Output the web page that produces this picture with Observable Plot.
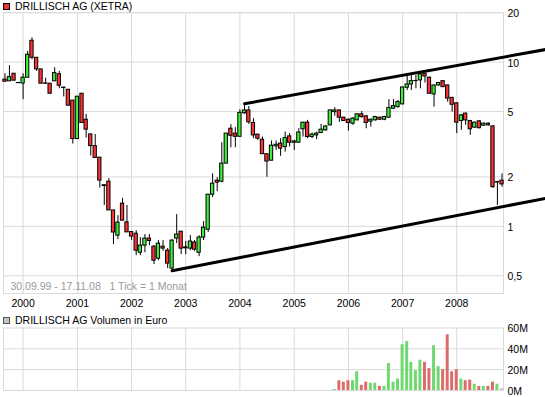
<!DOCTYPE html>
<html><head><meta charset="utf-8">
<script src="https://cdn.jsdelivr.net/npm/d3@7"></script>
<script src="https://cdn.jsdelivr.net/npm/@observablehq/plot@0.6"></script>
<style>
body{margin:0;background:#fff;}
#wrap{position:relative;width:545px;height:397px;font-family:"Liberation Sans",Arial,sans-serif;font-size:10.5px;color:#000;overflow:hidden;}
.lg{position:absolute;left:3px;display:flex;align-items:center;white-space:nowrap;height:10px;}
.sq{width:5px;height:5px;border:1px solid #000;margin-right:5px;}
#wrap svg{position:absolute;left:0;}
</style></head><body><div id="wrap"></div>
<script>
// ---- data (monthly candles, first month = Sep 1999, 1 Tick = 1 Monat) ----
const title = "DRILLISCH AG (XETRA)";
const volTitle = "DRILLISCH AG Volumen in Euro";
const caption = "30.09.99 - 17.11.08\u00a0\u00a0\u00a01 Tick = 1 Monat";
const firstMonth = [1999, 8]; // Sep 1999
const opens = [7.82,7.64,8.50,7.47,7.41,8.04,13.50,10.63,9.03,7.42,
7.39,7.64,8.45,7.00,6.79,5.83,3.40,6.42,4.46,3.63,
3.08,2.62,1.78,1.87,1.25,0.878,1.375,1.058,0.923,0.902,
0.691,0.763,0.842,0.752,0.636,0.752,0.711,0.553,0.842,0.928,
0.745,0.732,0.797,0.691,0.854,0.954,1.559,1.897,1.87,2.41,
3.93,3.67,3.51,4.88,5.08,4.26,3.62,3.37,2.75,2.51,
3.07,3.19,3.04,3.53,3.23,3.23,3.90,4.28,3.50,3.58,
3.70,3.84,4.12,4.96,5.08,4.59,4.46,4.22,4.42,4.81,
4.68,4.34,4.42,4.59,4.46,4.59,5.21,5.32,5.53,6.98,
7.31,7.66,7.74,8.50,8.04,6.36,7.21,7.66,7.21,6.06,
5.61,4.38,4.86,4.38,3.99,4.36,4.10,4.22,4.06,1.85,
1.897];
const highs = [8.50,9.51,8.50,7.50,8.50,11.62,14.07,10.63,9.03,7.99,
7.39,9.25,8.78,7.02,6.79,5.83,6.16,6.42,4.81,3.63,
3.63,2.62,1.78,1.95,1.25,1.162,1.48,1.342,0.923,0.941,
0.854,0.891,0.891,0.763,0.819,0.819,0.732,0.830,1.179,0.928,
0.81,0.878,0.819,0.878,1.068,1.559,2.09,1.98,3.23,3.67,
4.16,3.99,5.13,5.53,5.37,4.53,3.62,3.50,2.75,3.31,
3.31,3.42,3.75,3.67,3.34,3.93,4.30,4.42,3.70,3.75,
4.18,4.10,5.10,5.28,5.10,4.62,4.50,4.60,4.85,5.00,
4.70,4.50,4.68,4.62,4.68,5.91,5.91,5.85,7.05,8.18,
8.30,8.30,8.50,8.55,8.10,7.25,7.50,7.70,7.25,6.10,
5.65,4.80,4.90,4.42,4.32,4.40,4.26,4.26,4.10,1.88,
2.09];
const lows = [7.60,7.64,7.71,7.40,5.91,8.04,10.34,8.78,7.39,7.35,
6.42,7.64,6.88,6.14,5.43,3.17,3.40,4.26,3.45,2.68,
2.61,1.71,1.34,1.25,0.773,0.830,1.083,0.919,0.822,0.663,
0.663,0.691,0.763,0.585,0.618,0.704,0.553,0.527,0.785,0.672,
0.672,0.711,0.704,0.654,0.819,0.917,1.497,1.626,1.844,2.41,
3.01,3.01,3.51,4.81,4.18,3.42,3.34,2.75,1.99,2.51,
2.90,2.67,2.83,3.04,2.90,3.23,3.50,3.42,3.42,3.37,
3.70,3.80,4.10,4.68,4.30,4.35,3.80,4.12,4.40,4.55,
3.93,4.02,4.38,4.42,4.40,4.55,5.15,5.25,5.50,6.72,
6.72,6.88,6.88,7.46,6.40,5.32,7.15,7.00,5.70,4.96,
3.67,3.84,4.12,3.58,3.95,3.92,4.06,4.08,1.70,1.342,
1.73];
const closes = [7.60,8.10,7.71,7.45,8.04,11.09,10.63,9.03,7.39,7.39,
6.42,8.58,7.18,6.96,5.43,3.40,6.16,4.26,3.88,3.08,
2.61,1.90,1.76,1.25,0.917,1.054,1.083,0.919,0.866,0.711,
0.763,0.842,0.814,0.618,0.785,0.732,0.593,0.819,0.891,0.732,
0.735,0.808,0.721,0.854,0.982,1.559,1.819,1.844,2.41,3.67,
3.56,3.51,4.91,5.08,4.30,3.58,3.42,2.75,2.48,3.10,
3.14,2.97,3.45,3.23,3.29,3.73,4.28,3.50,3.62,3.67,
3.88,4.06,5.08,5.08,4.59,4.38,4.26,4.53,4.81,4.63,
4.26,4.46,4.63,4.46,4.63,5.26,5.40,5.71,7.01,7.31,
7.66,7.68,8.42,8.18,6.42,7.21,7.46,7.04,6.00,5.50,
4.28,4.74,4.42,3.90,4.28,3.96,4.22,4.12,1.734,1.86,
1.80];
// monthly turnover in million euro, first month = Oct 2005
const volFirstMonth = [2005, 9];
const volumes = [1,9.4,8,9.4,9.4,18,5,8,7,7,4,4,26,8,11,44,47,27,19,29,27,21,43,23,20,53.5,18,20,11,9.4,10,6,4,4,4,8,6,2];
const yearTicks = [2000,2001,2002,2003,2004,2005,2006,2007,2008];
const priceTicks = [0.5,1,2,5,10,20];
const priceTickLabels = ["0,5","1","2","5","10","20"];
const volTicks = [0,20,40,60];
const volTickLabels = ["0M","20M","40M","60M"];
const upperTrendDates = ["2004-02-01","2009-08-21"];
const upperTrendValues = [5.58, 11.93];
const lowerTrendDates = ["2002-10-01","2009-08-21"];
const lowerTrendValues = [0.537, 1.48];

// ---- build ----
const GREEN = "#3cf03c", RED = "#ff3333";
const DAY = 864e5;
const candles = opens.map((o,i)=>({
  date: new Date(Date.UTC(firstMonth[0], firstMonth[1]+i, 1)),
  open:o, high:highs[i], low:lows[i], close:closes[i]
}));
const volOffset = (volFirstMonth[0]-firstMonth[0])*12 + volFirstMonth[1]-firstMonth[1];
const volData = volumes.map((v,i)=>{
  const c = candles[volOffset+i];
  return {date:c.date, v, fill: i===volumes.length-1 ? "#c8c8c8" : (c.close>=c.open ? "#6fd96f" : "#de6a6a")};
});
const yearDates = yearTicks.map(y=>new Date(Date.UTC(y,0,1)));
const priceTickData = priceTicks.map((v,i)=>({v, label:priceTickLabels[i]}));
const volTickData = volTicks.map((v,i)=>({v, label:volTickLabels[i]}));
const yearData = yearDates.map((d,i)=>({d, label:String(yearTicks[i])}));
const upper = upperTrendDates.map((d,i)=>({date:new Date(d), value:upperTrendValues[i]}));
const lower = lowerTrendDates.map((d,i)=>({date:new Date(d), value:lowerTrendValues[i]}));
const xDomain = [new Date(Date.UTC(1999,7,22)), new Date(Date.UTC(2008,10,11))];
const FONT = '"Liberation Sans", Arial, sans-serif';
const GRID = "#dadada";
const off = (d,n)=>new Date(+d + n*DAY);

const main = Plot.plot({
  width:545, height:310,
  marginLeft:3, marginRight:42, marginTop:12.2, marginBottom:17,
  x:{type:"utc", domain:xDomain, axis:null},
  y:{type:"log", domain:[0.39,20], axis:null},
  style:{fontFamily:FONT, fontSize:"10.5px", background:"none", color:"#000"},
  marks:[
    Plot.ruleY(priceTickData, {y:"v", stroke:GRID}),
    Plot.ruleX(yearDates, {stroke:GRID}),
    Plot.frame({stroke:GRID}),
    Plot.text([caption], {frameAnchor:"bottom-left", lineAnchor:"middle", textAnchor:"start", dx:7, dy:-7, fill:"#9a9a9a"}),
    Plot.ruleX(candles, {x:"date", y1:"low", y2:"high", stroke:"#000", strokeWidth:1}),
    Plot.rect(candles, {x1:d=>off(d.date,-11), x2:d=>off(d.date,11), y1:"open", y2:"close",
      fill:d=>d.close>=d.open?GREEN:RED, stroke:"#000", strokeWidth:1}),
    Plot.line(upper, {x:"date", y:"value", stroke:"#000", strokeWidth:3}),
    Plot.line(lower, {x:"date", y:"value", stroke:"#000", strokeWidth:3}),
    Plot.text(yearData, {x:"d", text:"label", frameAnchor:"bottom", lineAnchor:"middle", dy:10, fill:"#000"}),
    Plot.text(priceTickData, {y:"v", text:"label", frameAnchor:"right", textAnchor:"start", lineAnchor:"middle", dx:4, dy:1, fill:"#000"})
  ]
});
main.style.top = "0px";

const vol = Plot.plot({
  width:545, height:87,
  marginLeft:3, marginRight:42, marginTop:17.5, marginBottom:7,
  x:{type:"utc", domain:xDomain, axis:null},
  y:{domain:[0,60], axis:null},
  style:{fontFamily:FONT, fontSize:"10.5px", background:"none", color:"#000"},
  marks:[
    Plot.ruleY([20,40], {stroke:GRID}),
    Plot.ruleX(yearDates, {stroke:GRID}),
    Plot.frame({stroke:GRID}),
    Plot.rect(volData, {x1:d=>off(d.date,-10), x2:d=>off(d.date,10), y1:0, y2:"v", fill:d=>d.fill}),
    Plot.text(volTickData, {y:"v", text:"label", frameAnchor:"right", textAnchor:"start", lineAnchor:"middle", dx:4, dy:1, fill:"#000"})
  ]
});
vol.style.top = "310px";

const wrap = document.getElementById("wrap");
wrap.appendChild(main);
wrap.appendChild(vol);
function legend(text, color, border, top){
  const d = document.createElement("div");
  d.className = "lg"; d.style.top = top+"px";
  const s = document.createElement("span"); s.className="sq"; s.style.background=color; s.style.borderColor=border;
  const t = document.createElement("span"); t.textContent = text;
  d.appendChild(s); d.appendChild(t); wrap.appendChild(d);
}
legend(title, "#ee3333", "#000", 1);
legend(volTitle, "#c4c4c4", "#555", 315);
</script></body></html>
